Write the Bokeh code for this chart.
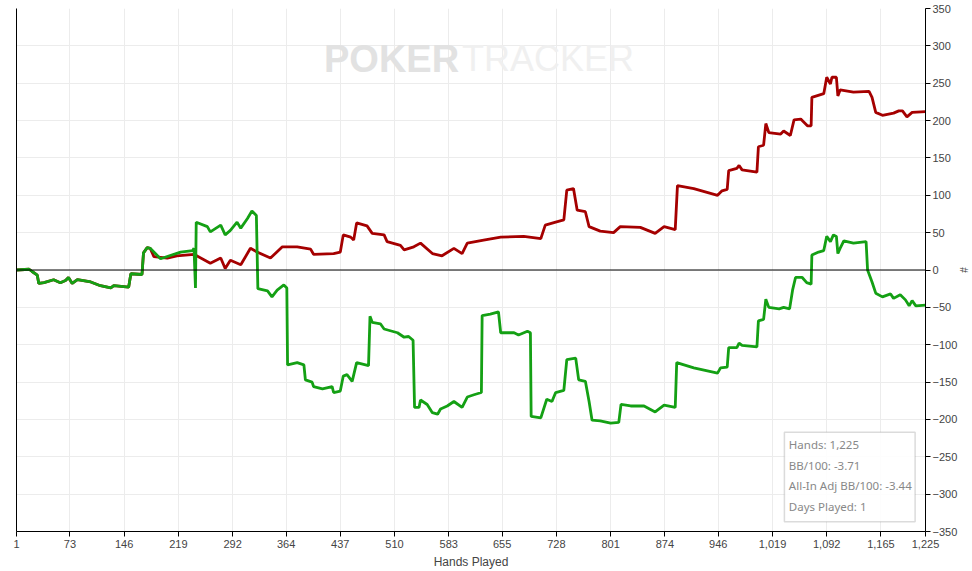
from bokeh.plotting import figure
from bokeh.models import (Range1d, LinearAxis, FixedTicker, NumeralTickFormatter,
                          Label, Span, BoxAnnotation)
from bokeh.embed import file_html
from bokeh.resources import INLINE

# ---- data ----
x_ticks = [1, 73, 146, 219, 292, 364, 437, 510, 583, 655, 728, 801, 874, 946,
           1019, 1092, 1165, 1225]
y_ticks = [-350, -300, -250, -200, -150, -100, -50, 0, 50, 100, 150, 200, 250, 300, 350]

won_hands = [1, 18, 22, 29, 31, 38, 51, 60, 67, 71, 76, 83, 101, 114, 128, 132, 152, 155,
             170, 172, 177, 181,
             186, 204, 217, 240, 262, 276, 282, 289, 303, 316, 325, 343, 359, 379, 397, 401,
             428, 437, 441, 451, 455, 459, 473, 480, 496, 500, 518, 523, 536, 545, 561, 574,
             590, 601, 608, 630, 653, 684, 707, 713, 727, 738, 742, 751, 756, 767, 772, 787,
             805, 814, 841, 861, 873, 888, 891, 913, 945, 951, 958, 960, 971, 974, 978, 998,
             1000, 1007, 1010, 1014, 1030, 1034, 1043, 1048, 1057, 1066, 1071, 1072, 1088,
             1092, 1097, 1099, 1105, 1107, 1110, 1128, 1149, 1153, 1158, 1167, 1182, 1189,
             1194, 1200, 1207, 1225]
won_values = [0, 1, -2, -7, -18, -17, -13, -17, -14, -10, -18, -13, -16, -21, -24, -21, -23, -5,
              -6, 23, 30, 29,
              18, 16, 19, 21, 9, 16, 2, 13, 7, 29, 24, 16, 31, 31, 28, 21,
              22, 24, 47, 44, 40, 63, 59, 49, 47, 38, 33, 27, 31, 36, 22, 19,
              29, 22, 36, 40, 44, 45, 42, 60, 64, 67, 107, 109, 80, 78, 58, 52,
              50, 58, 57, 49, 58, 54, 113, 109, 100, 106, 108, 133, 136, 140, 134, 131,
              165, 167, 196, 184, 182, 186, 180, 201, 202, 193, 193, 231, 236,
              258, 249, 258, 258, 233, 241, 238, 239, 231, 211, 207, 210, 213,
              213, 205, 211, 212]

ev_hands = [1, 18, 22, 29, 31, 38, 51, 60, 67, 71, 76, 83, 101, 114, 128, 132, 152, 155,
            170, 172, 177, 181,
            195, 222, 238, 240, 242, 243, 258, 262, 276, 282, 289, 298, 303, 312, 318, 324,
            326, 339, 345, 352, 361, 365, 366, 379, 388, 390, 399, 401, 413, 426, 428, 437,
            441, 446, 453, 459, 475, 477, 480, 491, 496, 514, 523, 529, 535, 537, 543, 545,
            554, 561, 568, 572, 581, 590, 601, 608, 617, 627, 628, 639, 650, 653, 671, 677,
            689, 693, 694, 707, 715, 722, 727, 738, 742, 754, 758, 767, 772, 776, 787, 801,
            812, 815, 828, 846, 861, 873, 888, 890, 913, 945, 949, 958, 960, 971, 974, 978,
            998, 1000, 1007, 1010, 1014, 1028, 1034, 1042, 1046, 1050, 1059, 1065, 1071,
            1072, 1081, 1088, 1092, 1097, 1101, 1105, 1107, 1110, 1115, 1128, 1145, 1147,
            1153, 1158, 1167, 1178, 1182, 1191, 1198, 1203, 1207, 1212, 1225]
ev_values = [0, 1, -2, -7, -18, -17, -13, -17, -14, -10, -18, -13, -16, -21, -24, -21, -23, -5,
             -6, 23, 30, 29,
             15, 24, 26, 29, -24, 64, 58, 51, 60, 47, 53, 64, 56, 69, 79, 73,
             -25, -28, -36, -27, -20, -24, -127, -124, -127, -147, -150, -156, -159, -156, -164, -162,
             -142, -140, -149, -124, -128, -62, -70, -72, -79, -84, -90, -89, -94, -184, -184, -174,
             -180, -191, -193, -186, -182, -176, -184, -170, -167, -164, -61, -59, -56, -84, -84, -87,
             -82, -84, -196, -198, -173, -176, -164, -161, -120, -118, -147, -149, -176, -201, -202, -205,
             -204, -180, -182, -182, -190, -181, -184, -124, -131, -138, -131, -130, -104, -104, -98, -101,
             -103, -68, -66, -39, -50, -52, -50, -52, -27, -10, -10, -17, -19,
             20, 24, 26, 45, 38, 47, 45, 22, 29, 39, 36, 38, 0,
             -16, -31, -36, -32, -38, -33, -40, -48, -41, -48, -47]

stats_lines = ["Hands: 1,225", "BB/100: -3.71", "All-In Adj BB/100: -3.44", "Days Played: 1"]

# ---- figure ----
FONT = "Liberation Sans"
p = figure(width=972, height=571, output_backend="svg", toolbar_location=None,
           x_range=Range1d(1, 1225), y_range=Range1d(-350, 350),
           y_axis_location="right",
           min_border_left=16, min_border_right=47, min_border_top=8, min_border_bottom=38)
p.outline_line_color = None
p.background_fill_color = "white"

# grid
p.xgrid.ticker = FixedTicker(ticks=x_ticks)
p.ygrid.ticker = FixedTicker(ticks=y_ticks)
for g in (p.xgrid[0], p.ygrid[0]):
    g.grid_line_color = "#ececec"
    g.grid_line_width = 1

# bottom axis
xa = p.xaxis[0]
xa.ticker = FixedTicker(ticks=x_ticks)
xa.formatter = NumeralTickFormatter(format="0,0")
xa.axis_label = "Hands Played"
xa.axis_label_text_font = FONT
xa.axis_label_text_font_style = "normal"
xa.axis_label_text_font_size = "12px"
xa.axis_label_standoff = 4
xa.major_label_text_font = FONT
xa.major_label_text_font_size = "11px"
xa.major_label_standoff = 3
xa.major_tick_out = 5
xa.major_tick_in = 0
xa.minor_tick_line_color = None
xa.axis_line_color = "black"

# right axis
ya = p.yaxis[0]
ya.ticker = FixedTicker(ticks=y_ticks)
ya.axis_label = "#"
ya.axis_label_text_font = FONT
ya.axis_label_text_font_style = "normal"
ya.axis_label_text_font_size = "10px"
ya.axis_label_standoff = -2
ya.major_label_text_font = FONT
ya.major_label_text_font_size = "11px"
ya.major_label_standoff = 2
ya.major_tick_out = 5
ya.major_tick_in = 0
ya.minor_tick_line_color = None
ya.axis_line_color = "black"

# left axis: line only
la = LinearAxis(ticker=FixedTicker(ticks=[]), major_tick_line_color=None,
                minor_tick_line_color=None, major_label_text_font_size="0px",
                axis_line_color="black")
p.add_layout(la, "left")

# zero line
p.add_layout(Span(location=0, dimension="width", line_color="black", line_width=1))

# watermark
p.add_layout(Label(x=597, y=283, text="POKER", text_align="right", text_baseline="middle",
                   text_font=FONT, text_font_style="bold", text_font_size="38px",
                   text_color="#e2e2e2"))
p.add_layout(Label(x=601, y=283, text="TRACKER", text_align="left", text_baseline="middle",
                   text_font=FONT, text_font_size="36px", text_color="#f0f0f0"))

# series
p.line(won_hands, won_values, line_color="#a50000", line_width=2.8)
p.line(ev_hands, ev_values, line_color="#14a014", line_width=2.8)

# stats box
p.add_layout(BoxAnnotation(left=1035, right=1211, top=-217, bottom=-337,
                           fill_color="white", fill_alpha=0.9,
                           line_color="#888888", line_width=1.5))
stat_y = [-233, -261, -289, -316]
for txt, yy in zip(stats_lines, stat_y):
    p.add_layout(Label(x=1041, y=yy, text=txt, text_align="left", text_baseline="middle",
                       text_font="Noto Sans", text_font_size="11.5px", text_color="#888888"))

open("out.html", "w").write(file_html(p, INLINE))
